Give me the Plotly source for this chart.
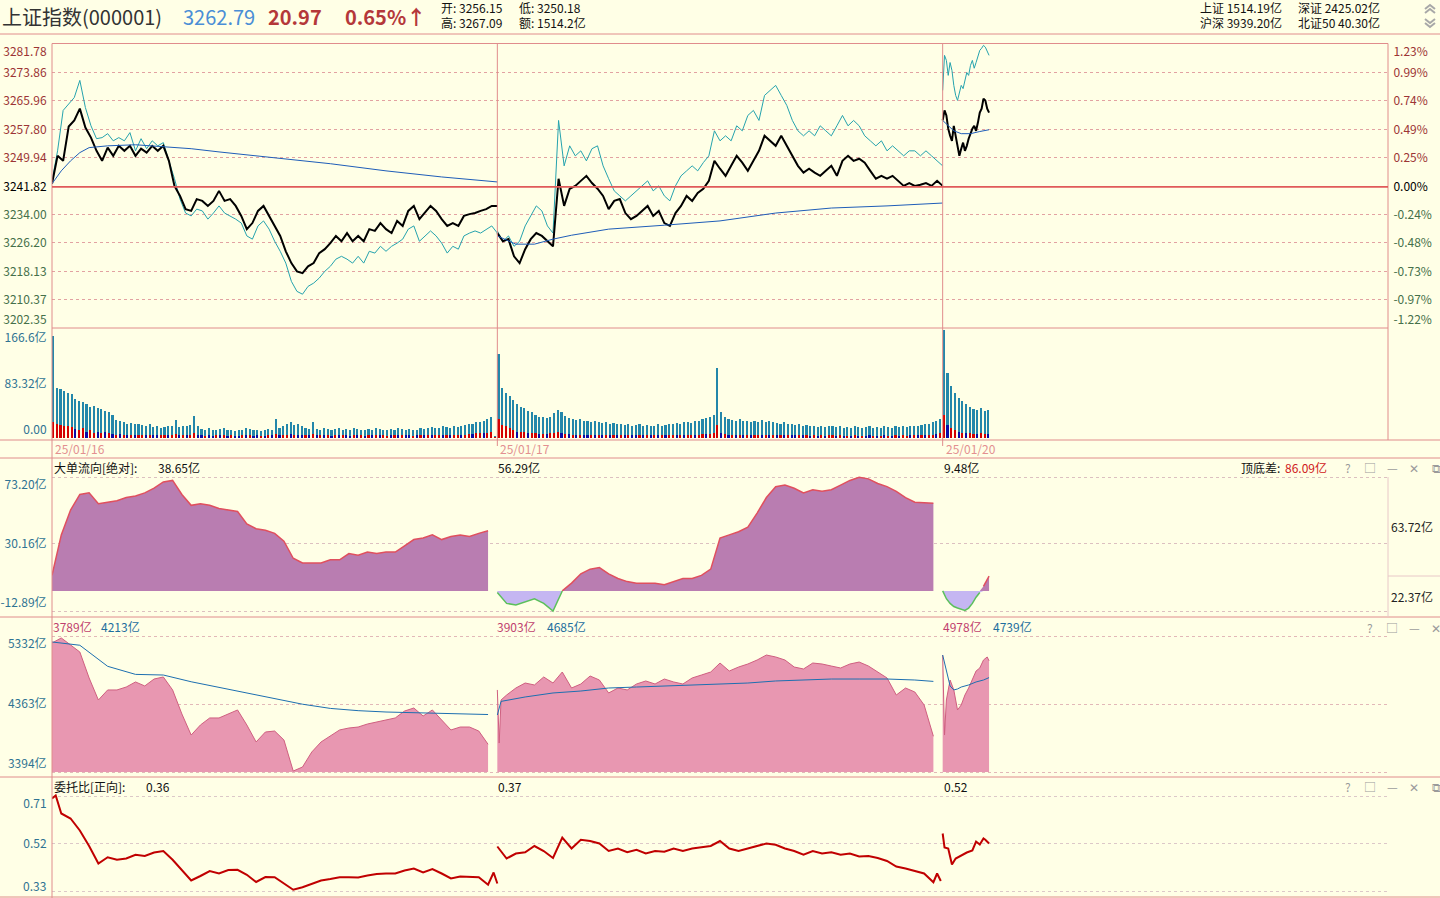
import numpy as np
import plotly.graph_objects as go

W, H = 1440, 898
LEFT, RIGHT = 52, 1388
BG = "#FFFFE6"
FONT = "Noto Sans CJK SC"
SALMON = "#E08C8C"
NB = "\u00a0"

DAY_LABELS = ["25/01/16", "25/01/17", "25/01/20"]
MPD = 240  # trading minutes per day

# ---------------- price panel ----------------
price_t_d1 = list(range(0, 241, 3))
price_t_d2 = list(range(0, 241, 3))
price_t_d3 = list(range(0, 26))

index_d1 = [3242.7, 3250.5, 3249.1, 3258.7, 3260.4, 3263.7, 3258.4, 3255.6, 3251.9, 3249.1,
            3252.8, 3250.5, 3253.3, 3251.9, 3253.3, 3250.5, 3252.5, 3251.4, 3253.3, 3251.9,
            3253.3, 3249.1, 3242.1, 3239.3, 3235.6, 3235.1, 3238.4, 3237.9, 3236.5, 3237.9,
            3240.7, 3237.9, 3238.4, 3236.5, 3233.7, 3230.0, 3231.7, 3235.1, 3236.5, 3233.7,
            3230.9, 3228.1, 3223.8, 3220.5, 3218.2, 3217.7, 3219.6, 3220.5, 3223.3, 3224.4,
            3226.1, 3228.1, 3226.6, 3228.9, 3226.6, 3228.1, 3226.6, 3230.0, 3229.5, 3231.7,
            3230.0, 3228.9, 3232.3, 3230.9, 3235.1, 3236.5, 3232.8, 3234.5, 3236.5, 3235.1,
            3232.8, 3230.9, 3231.7, 3230.9, 3233.7, 3234.2, 3234.5, 3235.1, 3235.6, 3236.5,
            3236.5]
index_d2 = [3228.9, 3226.6, 3227.2, 3222.4, 3220.5, 3224.4, 3227.2, 3228.9, 3228.1, 3226.6,
            3225.2, 3244.1, 3236.5, 3241.3, 3242.1, 3243.5, 3244.9, 3242.9, 3241.3, 3239.3,
            3235.6, 3237.9, 3238.4, 3234.5, 3232.8, 3233.7, 3235.1, 3236.5, 3233.7, 3235.1,
            3231.7, 3230.9, 3234.5, 3236.5, 3239.3, 3237.9, 3240.1, 3241.3, 3243.5, 3249.1,
            3246.9, 3244.9, 3247.7, 3250.5, 3248.6, 3246.3, 3249.1, 3251.9, 3256.1, 3254.7,
            3253.3, 3256.1, 3253.3, 3250.5, 3247.7, 3245.8, 3246.9, 3245.8, 3244.9, 3246.3,
            3247.7, 3244.9, 3249.1, 3250.5, 3249.1, 3249.7, 3248.6, 3246.3, 3244.1, 3244.9,
            3244.1, 3244.9, 3243.5, 3242.1, 3242.9, 3242.1, 3242.4, 3242.9, 3242.1, 3243.5,
            3242.1]
index_d3 = [3260.4, 3263.2, 3261.8, 3258.1, 3256.1, 3254.7, 3258.9, 3256.1, 3253.3, 3250.5,
            3252.5, 3254.2, 3251.9, 3253.3, 3255.3, 3257.0, 3258.1, 3258.9, 3257.5, 3259.8,
            3262.6, 3263.7, 3266.5, 3266.0, 3263.7, 3262.6]

equal_d1 = [3243.5, 3251.9, 3263.2, 3265.1, 3266.8, 3271.6, 3264.0, 3258.9, 3255.3, 3255.6,
            3256.7, 3254.7, 3255.6, 3254.7, 3257.0, 3251.9, 3255.3, 3252.5, 3254.7, 3253.3,
            3254.2, 3249.1, 3244.1, 3238.4, 3234.5, 3233.7, 3235.6, 3235.1, 3232.8, 3234.5,
            3236.5, 3234.5, 3233.7, 3232.8, 3231.7, 3228.1, 3227.2, 3230.9, 3232.3, 3230.0,
            3226.6, 3223.8, 3220.5, 3215.4, 3212.6, 3211.8, 3214.0, 3214.9, 3216.3, 3218.2,
            3219.6, 3221.6, 3222.4, 3221.6, 3220.5, 3222.4, 3220.5, 3223.8, 3223.3, 3225.2,
            3223.8, 3225.2, 3226.1, 3227.2, 3230.0, 3230.9, 3226.6, 3228.1, 3229.5, 3228.1,
            3226.1, 3223.3, 3225.2, 3224.4, 3228.1, 3228.9, 3229.5, 3228.9, 3230.0, 3230.9,
            3228.9]
equal_d2 = [3229.5, 3226.6, 3228.1, 3225.2, 3226.6, 3230.9, 3233.7, 3236.5, 3235.1, 3230.9,
            3228.9, 3260.4, 3247.7, 3253.3, 3250.5, 3251.9, 3249.1, 3252.5, 3253.3, 3247.7,
            3244.1, 3240.7, 3239.3, 3237.9, 3239.3, 3240.7, 3242.1, 3243.5, 3240.7, 3242.1,
            3239.3, 3237.9, 3242.1, 3244.9, 3246.3, 3247.7, 3246.3, 3248.6, 3250.5, 3257.5,
            3254.7, 3256.1, 3254.7, 3258.9, 3257.5, 3261.8, 3263.2, 3260.4, 3267.4, 3268.8,
            3270.2, 3267.4, 3264.6, 3260.4, 3257.5, 3256.1, 3257.5, 3256.1, 3258.9, 3257.5,
            3256.1, 3258.9, 3261.8, 3258.9, 3260.4, 3258.9, 3256.1, 3254.7, 3253.3, 3254.7,
            3251.9, 3253.3, 3251.9, 3250.5, 3251.9, 3251.9, 3250.5, 3251.9, 3250.5, 3249.1,
            3247.7]
equal_d3 = [3268.8, 3278.6, 3277.2, 3273.0, 3276.6, 3274.4, 3270.2, 3267.4, 3266.0, 3268.2,
            3270.2, 3269.3, 3271.6, 3273.8, 3273.0, 3275.8, 3277.2, 3275.0, 3276.6, 3278.6,
            3280.0, 3280.6, 3281.4, 3280.9, 3279.5, 3278.6]

avg_t_d1 = [0, 5, 10, 15, 20, 30, 45, 60, 75, 90, 120, 150, 180, 210, 240]
avg_d1 = [3242.7, 3246.3, 3249.1, 3251.4, 3252.8, 3253.3, 3253.6, 3253.0, 3252.5, 3251.6,
          3250.0, 3248.3, 3246.3, 3244.6, 3243.2]
avg_t_d2 = [0, 10, 20, 30, 40, 60, 90, 120, 150, 180, 210, 240]
avg_d2 = [3228.1, 3225.8, 3225.8, 3227.2, 3228.3, 3230.0, 3231.1, 3232.3, 3234.5, 3235.9,
          3236.5, 3237.3]
avg_t_d3 = [0, 3, 6, 10, 15, 20, 25]
avg_d3 = [3260.4, 3258.9, 3257.5, 3256.7, 3256.7, 3257.3, 3257.8]

PRICE_TICKS = [3281.78, 3273.86, 3265.96, 3257.80, 3249.94, 3241.82, 3234.00, 3226.20,
               3218.13, 3210.37, 3202.35]
PCT_LABELS = ["1.23%", "0.99%", "0.74%", "0.49%", "0.25%", "0.00%", "-0.24%", "-0.48%",
              "-0.73%", "-0.97%", "-1.22%"]
PREV_CLOSE = 3241.82

# ---------------- volume panel (亿) ----------------
vol_t_d1 = list(range(0, 240, 2))
vol_t_d2 = list(range(0, 240, 2))
vol_t_d3 = list(range(0, 26, 2))
vol_d1 = [157, 77, 75, 73, 70, 68, 60, 57, 55, 52,
          48, 50, 47, 45, 42, 40, 36, 28, 27, 24,
          22, 23, 21, 22, 20, 19, 21, 17, 18, 16,
          17, 19, 18, 28, 17, 18, 19, 20, 34, 18,
          14, 13, 15, 12, 13, 14, 16, 12, 13, 11,
          12, 13, 15, 14, 12, 13, 11, 12, 14, 13,
          29, 15, 18, 22, 25, 20, 22, 19, 16, 14,
          25, 14, 13, 15, 14, 12, 14, 15, 13, 14,
          12, 15, 14, 13, 12, 14, 13, 15, 14, 13,
          12, 14, 13, 15, 14, 13, 14, 12, 13, 15,
          14, 16, 17, 15, 16, 18, 17, 16, 18, 17,
          19, 20, 21, 22, 24, 25, 27, 30, 32, 3]
vol_d2 = [130, 78, 70, 65, 58, 52, 48, 46, 42, 40,
          36, 33, 32, 31, 33, 38, 44, 40, 34, 31,
          30, 28, 29, 27, 26, 25, 27, 24, 23, 25,
          22, 23, 21, 22, 20, 21, 19, 20, 22, 19,
          20, 18, 19, 21, 18, 20, 22, 21, 23, 22,
          24, 25, 23, 27, 26, 29, 31, 33, 36, 108,
          40, 33, 30, 28, 27, 29, 26, 27, 25, 26,
          24, 28, 25, 26, 24, 23, 22, 24, 21, 22,
          20, 21, 19, 20, 18, 19, 17, 18, 17, 19,
          18, 17, 18, 16, 17, 16, 18, 17, 16, 17,
          18, 16, 17, 16, 18, 17, 16, 18, 17, 18,
          17, 19, 18, 19, 20, 21, 22, 24, 27, 30]
vol_d3 = [166.6, 100, 80, 70, 62, 57, 52, 48, 45, 43, 46, 42, 44]

act_d1 = [25, 22, 20, 19, 18, 17, 14, 12, 15, 10,
          12, 8, 10, 7, 9, 8, 6, 5, 6, 5,
          5, 4, 5, 5, 4, 5, 4, 5, 4, 4,
          5, 4, 5, 6, 4, 5, 4, 5, 7, 4,
          4, 3, 4, 3, 4, 4, 4, 3, 4, 3,
          3, 4, 4, 4, 3, 4, 3, 3, 4, 4,
          6, 4, 5, 5, 6, 5, 5, 4, 4, 4,
          6, 4, 4, 4, 4, 3, 4, 4, 4, 4,
          3, 4, 4, 4, 3, 4, 4, 4, 4, 4,
          3, 4, 4, 4, 4, 4, 4, 3, 4, 4,
          4, 4, 5, 4, 4, 5, 5, 4, 5, 5,
          5, 5, 6, 6, 7, 7, 8, 8, 9, 1]
act_d2 = [30, 20, 18, 15, 12, 10, 10, 9, 8, 8,
          7, 6, 6, 6, 7, 8, 9, 8, 6, 6,
          5, 5, 5, 5, 5, 4, 5, 4, 4, 5,
          4, 4, 4, 4, 4, 4, 4, 4, 4, 4,
          4, 4, 4, 4, 4, 4, 4, 4, 5, 4,
          5, 5, 4, 5, 5, 6, 6, 6, 7, 20,
          7, 6, 5, 5, 5, 5, 5, 5, 4, 5,
          4, 5, 4, 5, 4, 4, 4, 4, 4, 4,
          4, 4, 4, 4, 3, 4, 3, 4, 3, 4,
          4, 3, 4, 3, 3, 3, 4, 3, 3, 3,
          4, 3, 3, 3, 4, 3, 3, 4, 3, 4,
          3, 4, 4, 4, 4, 4, 5, 5, 6, 7]
act_d3 = [35, 20, 15, 12, 10, 8, 7, 7, 6, 6, 7, 6, 6]
dir_d1 = ("RRRRRRBRRB" "RRBRBRBRBR" "BRBRRBRBBR" "RBRRBRBRRB" "BRBBRBRBRB" "BRBRBBRBRB"
          "RBRRBRBBRB" "RBRBRBRBRB" "BRBRBRBRBR" "RBRBRBBRBR" "BRBRRBRBRR" "BRRBRRBRRR")
dir_d2 = ("RRRRRBRRBR" "RBRBRRRBRB" "RBRBBRBRBR" "BRBRBRBBRB" "RBRBRBRRBR" "BRRBRRBRRR"
          "BRBRBRBRBR" "RBRBRBRBRB" "BRBRBRBRBR" "RBRBRBRBRB" "BRBRBRBRBR" "RBRBRBRRBR")
dir_d3 = "RBRRBRBRRBRRB"
VOL_TICKS = [0, 83.32, 166.6]
VOL_LABELS = ["0.00", "83.32亿", "166.6亿"]

# ---------------- big-order flow panel (亿) ----------------
flow_t_d1 = list(range(0, 236, 5))
flow_t_d2 = list(range(0, 236, 5))
flow_t_d3 = [0, 2, 4, 6, 8, 10, 12, 14, 16, 18, 20, 22, 24, 25]
flow_d1 = [10, 36, 52, 62, 63, 56, 57, 58, 60, 61, 63, 66, 70, 71, 62, 55, 56, 55, 53, 52,
           51, 43, 40, 39, 37, 32, 21, 18, 18, 18, 20, 20, 24, 23, 25, 24, 25, 25, 29, 33,
           34, 36, 33, 35, 36, 35, 37, 38.65]
flow_d2 = [-1, -8, -9, -7, -5, -8, -12.9, 0, 5, 11, 14, 15, 11, 8, 6, 5, 5, 5, 4, 6,
           8, 8, 10, 14, 34, 36, 38, 41, 50, 60, 67, 68, 66, 63, 65, 64, 65, 68, 71, 73,
           72, 69, 67, 64, 60, 57, 56.5, 56.29]
flow_d3 = [0, -5, -8, -10, -11, -12, -12.5, -11, -8, -4, -1, 3, 7, 9.48]
FLOW_TICKS = [73.20, 30.16, -12.89]

# ---------------- capital panel (亿) ----------------
cap_t_d1 = list(range(0, 236, 5))
cap_t_d2 = [0, 1, 2] + list(range(5, 236, 5))
cap_t_d3 = [0, 1, 2, 4, 6, 8, 10, 12, 14, 16, 18, 20, 22, 24, 25]
cap_d1 = [5232, 5304, 5204, 5104, 4734, 4420, 4563, 4563, 4605, 4677, 4620, 4719, 4748, 4563,
          4221, 3921, 4064, 4164, 4164, 4221, 4278, 4064, 3822, 3964, 3978, 3850, 3408, 3465,
          3679, 3822, 3907, 3993, 4021, 4035, 4078, 4107, 4135, 4164, 4263, 4306, 4192, 4278,
          4135, 3993, 4035, 4035, 3978, 3789]
cap_d2 = [4563, 3807, 4420, 4491, 4591, 4662, 4634, 4748, 4662, 4819, 4591, 4648, 4762, 4705,
          4520, 4591, 4563, 4648, 4691, 4648, 4719, 4677, 4648, 4734, 4776, 4819, 4947, 4833,
          4890, 4933, 4990, 5061, 5033, 4990, 4890, 4862, 4947, 4933, 4904, 4876, 4933, 4961,
          4904, 4819, 4734, 4491, 4591, 4534, 4349, 3903]
cap_d3 = [5061, 3921, 4420, 4705, 4563, 4278, 4349, 4491, 4591, 4705, 4833, 4876, 4990, 5033,
          4978]
capavg_t_d1 = list(range(0, 226, 15)) + [235]
capavg_t_d2 = [0, 2] + list(range(15, 226, 15)) + [235]
capavg_t_d3 = [0, 2, 4, 6, 8, 10, 14, 18, 22, 25]
capavg_d1 = [5247, 5200, 4900, 4785, 4776, 4680, 4600, 4520, 4450, 4360, 4300, 4268, 4249,
             4240, 4235, 4228, 4213]
capavg_d2 = [4206, 4400, 4463, 4520, 4548, 4591, 4605, 4620, 4634, 4648, 4662, 4691, 4705,
             4719, 4719, 4719, 4705, 4685]
capavg_d3 = [5061, 4848, 4620, 4563, 4577, 4605, 4634, 4677, 4705, 4739]
CAP_TICKS = [5332, 4363, 3394]

# ---------------- order ratio panel ----------------
ratio_t_d1 = [0, 2] + list(range(5, 236, 5)) + [238, 240]
ratio_t_d2 = [0, 2] + list(range(5, 236, 5)) + [237, 239]
ratio_t_d3 = [0, 1, 3, 5, 7, 10, 13, 16, 18, 20, 22, 23, 25]
ratio_d1 = [0.700, 0.712, 0.64, 0.62, 0.572, 0.51, 0.44, 0.465, 0.455, 0.46, 0.475, 0.47,
            0.484, 0.49, 0.455, 0.415, 0.372, 0.39, 0.41, 0.40, 0.414, 0.415, 0.395, 0.366,
            0.386, 0.385, 0.36, 0.335, 0.345, 0.36, 0.372, 0.378, 0.385, 0.385, 0.384, 0.392,
            0.398, 0.40, 0.40, 0.412, 0.42, 0.404, 0.418, 0.40, 0.38, 0.388, 0.388, 0.385,
            0.355, 0.404, 0.36]
ratio_d2 = [0.508, 0.49, 0.46, 0.48, 0.485, 0.51, 0.49, 0.462, 0.544, 0.50, 0.535, 0.53,
            0.52, 0.49, 0.50, 0.485, 0.495, 0.48, 0.49, 0.487, 0.50, 0.49, 0.50, 0.505, 0.51,
            0.53, 0.50, 0.49, 0.50, 0.51, 0.52, 0.515, 0.50, 0.49, 0.475, 0.49, 0.48, 0.485,
            0.475, 0.48, 0.468, 0.47, 0.462, 0.45, 0.428, 0.42, 0.41, 0.40, 0.365, 0.40, 0.37]
ratio_d3 = [0.56, 0.504, 0.50, 0.436, 0.46, 0.472, 0.484, 0.492, 0.528, 0.516, 0.54, 0.535,
            0.52]
RATIO_TICKS = [0.71, 0.52, 0.33]


# ---------------- helpers ----------------
def xs(day, ts, off=0.0):
    return [day * MPD + t + off for t in ts]


def px(x):
    return (x - LEFT) / (RIGHT - LEFT)


def py(y):
    return 1 - y / H


def dom(top, bottom):
    return [1 - bottom / H, 1 - top / H]


def edge_labels(labels, last=True):
    """Shift first label down and last label up by half a line, like the terminal does."""
    out = list(labels)
    out[0] = NB + "<br>" + out[0]
    if last:
        out[-1] = out[-1] + "<br>" + NB
    return out


fig = go.Figure()

# price panel (average line drawn on the right-hand percent axis, same scale)
for d, (ta, a) in enumerate([(avg_t_d1, avg_d1), (avg_t_d2, avg_d2), (avg_t_d3, avg_d3)]):
    fig.add_trace(go.Scatter(x=xs(d, ta), y=a, mode="lines", yaxis="y6",
                             line=dict(color="#1F5DB8", width=1)))
for d, (tp, e) in enumerate([(price_t_d1, equal_d1), (price_t_d2, equal_d2), (price_t_d3, equal_d3)]):
    fig.add_trace(go.Scatter(x=xs(d, tp), y=e, mode="lines", yaxis="y",
                             line=dict(color="#25A3AE", width=1)))
for d, (tp, p) in enumerate([(price_t_d1, index_d1), (price_t_d2, index_d2), (price_t_d3, index_d3)]):
    fig.add_trace(go.Scatter(x=xs(d, tp), y=p, mode="lines", yaxis="y",
                             line=dict(color="#000000", width=2)))

# volume panel
vol_sets = [(vol_t_d1, vol_d1, act_d1, dir_d1), (vol_t_d2, vol_d2, act_d2, dir_d2),
            (vol_t_d3, vol_d3, act_d3, dir_d3)]
for d, (tv, v, a, dr) in enumerate(vol_sets):
    fig.add_trace(go.Bar(x=xs(d, tv, 0.6), y=v, width=1.15, yaxis="y2",
                         marker=dict(color="#2387AA", line=dict(width=0))))
    fig.add_trace(go.Bar(x=xs(d, tv, 0.6), y=a, width=1.15, yaxis="y2",
                         marker=dict(color=["#D40000" if c == "R" else "#0A0AA8" for c in dr],
                                     line=dict(width=0))))

# flow panel
for d, (tf, f) in enumerate([(flow_t_d1, flow_d1), (flow_t_d2, flow_d2), (flow_t_d3, flow_d3)]):
    v = np.array(f, dtype=float)
    x = xs(d, tf)
    fig.add_trace(go.Scatter(x=x, y=np.clip(v, 0, None), mode="lines", fill="tozeroy",
                             fillcolor="#B97DB1", line=dict(width=0), yaxis="y3"))
    fig.add_trace(go.Scatter(x=x, y=np.clip(v, None, 0), mode="lines", fill="tozeroy",
                             fillcolor="#C5B6F2", line=dict(width=0), yaxis="y3"))
    fig.add_trace(go.Scatter(x=x, y=np.where(v >= 0, v, np.nan), mode="lines", yaxis="y3",
                             line=dict(color="#E0505E", width=1.5)))
    fig.add_trace(go.Scatter(x=x, y=np.where(v <= 0, v, np.nan), mode="lines", yaxis="y3",
                             line=dict(color="#5CC05C", width=1.5)))

# capital panel
cap_sets = [(cap_t_d1, cap_d1, capavg_t_d1, capavg_d1), (cap_t_d2, cap_d2, capavg_t_d2, capavg_d2),
            (cap_t_d3, cap_d3, capavg_t_d3, capavg_d3)]
for d, (tc, c, tca, ca) in enumerate(cap_sets):
    x = xs(d, tc)
    fig.add_trace(go.Scatter(x=x, y=[CAP_TICKS[-1]] * len(x), mode="lines",
                             line=dict(width=0), yaxis="y4"))
    fig.add_trace(go.Scatter(x=x, y=c, mode="lines", fill="tonexty", fillcolor="#E897B1",
                             line=dict(color="#CF5F80", width=1), yaxis="y4"))
    fig.add_trace(go.Scatter(x=xs(d, tca), y=ca, mode="lines", yaxis="y4",
                             line=dict(color="#1D6FB0", width=1)))

# ratio panel
for d, (tr, r) in enumerate([(ratio_t_d1, ratio_d1), (ratio_t_d2, ratio_d2), (ratio_t_d3, ratio_d3)]):
    fig.add_trace(go.Scatter(x=xs(d, tr), y=r, mode="lines", yaxis="y5",
                             line=dict(color="#C00000", width=2)))

# ---------------- axes ----------------
UP, FLAT, DOWN = "#9C3535", "#000000", "#45704A"
AXBLUE = "#2F7393"


def colored(labels, values, ref):
    out = []
    for lab, val in zip(labels, values):
        c = UP if val > ref + 1e-6 else (DOWN if val < ref - 1e-6 else FLAT)
        out.append(f'<span style="color:{c}">{lab}</span>')
    return out


TS = 12
tickfont = dict(family=FONT, size=TS, color=AXBLUE)
common = dict(showline=False, zeroline=False, ticks="outside", ticklen=2, tickcolor="rgba(0,0,0,0)",
              anchor="x", fixedrange=True, automargin=False)

price_range = [PRICE_TICKS[-1], PRICE_TICKS[0]]
layout_axes = dict(
    xaxis=dict(range=[0, 3 * MPD], domain=[0, 1], visible=False, anchor="y5", fixedrange=True,
               automargin=False),
    yaxis=dict(domain=dom(44, 328), range=price_range, tickvals=PRICE_TICKS,
               ticktext=edge_labels(colored([f"{v:.2f}" for v in PRICE_TICKS], PRICE_TICKS, PREV_CLOSE)),
               showgrid=True, gridcolor="#E2A2A2", griddash="3px,3px", gridwidth=1,
               tickfont=dict(family=FONT, size=TS), **common),
    yaxis6=dict(overlaying="y", side="right", range=price_range, tickvals=PRICE_TICKS,
                ticktext=edge_labels(colored(PCT_LABELS, PRICE_TICKS, PREV_CLOSE)), showgrid=False,
                tickfont=dict(family=FONT, size=TS), **common),
    yaxis2=dict(domain=dom(328, 438), range=[0, 170], tickvals=VOL_TICKS,
                ticktext=[VOL_LABELS[0] + "<br>" + NB, VOL_LABELS[1], NB + "<br>" + VOL_LABELS[2]],
                showgrid=False, tickfont=tickfont, **common),
    yaxis3=dict(domain=dom(458, 617), range=[-16.745, 85.407], tickvals=FLOW_TICKS,
                ticktext=edge_labels([f"{v:.2f}亿" for v in FLOW_TICKS]), showgrid=True,
                gridcolor="#DCC0C0", griddash="3px,3px", tickfont=tickfont, **common),
    yaxis4=dict(domain=dom(617, 777), range=[3322.75, 5602.75], tickvals=CAP_TICKS,
                ticktext=edge_labels([f"{v}亿" for v in CAP_TICKS]), showgrid=True,
                gridcolor="#E2B8B8", griddash="3px,3px", tickfont=tickfont, **common),
    yaxis5=dict(domain=dom(777, 898), range=[0.302, 0.786], tickvals=RATIO_TICKS,
                ticktext=edge_labels([f"{v:.2f}" for v in RATIO_TICKS[:-1]] + [NB], last=False),
                showgrid=True, gridcolor="#DCC8C8", griddash="3px,3px", tickfont=tickfont, **common),
)

# ---------------- shapes ----------------
shapes = []


def seg(x0, y0, x1, y1, color=SALMON, width=1):
    shapes.append(dict(type="line", xref="paper", yref="paper", x0=px(x0), y0=py(y0),
                       x1=px(x1), y1=py(y1), line=dict(color=color, width=width), layer="above"))


def poly(points, color="#A8A8A8", width=2):
    path = "M " + " L ".join(f"{px(a)},{py(b)}" for a, b in points)
    shapes.append(dict(type="path", xref="paper", yref="paper", path=path,
                       line=dict(color=color, width=width), layer="above"))


seg(0, 34, W, 34)
seg(LEFT, 43.5, RIGHT, 43.5)
seg(LEFT, 43.5, LEFT, H)
seg(RIGHT, 43.5, RIGHT, 440)
seg(LEFT, 328, RIGHT, 328)
seg(0, 440, W, 440)
seg(0, 458, W, 458)
seg(0, 617, W, 617)
seg(0, 777, W, 777)
seg(0, 897, W, 897)
seg(RIGHT, 477, RIGHT, 617, color="#E8C8C8")
seg(RIGHT, 576, W, 576, color="#E8C8C8")
for d in (1, 2):
    xd = LEFT + (RIGHT - LEFT) * d / 3
    seg(xd, 43.5, xd, 446)
shapes.append(dict(type="line", xref="paper", yref="y", x0=0, x1=1, y0=PREV_CLOSE, y1=PREV_CLOSE,
                   line=dict(color="#E05A5A", width=1.6), layer="above"))
# scroll chevrons (top right)
poly([(1425, 9), (1430, 5), (1435, 9)])
poly([(1425, 13), (1430, 9), (1435, 13)])
poly([(1425, 19), (1430, 23), (1435, 19)])
poly([(1425, 23), (1430, 27), (1435, 23)])

# ---------------- annotations ----------------
anns = []


def txt(x, y, s, color="#111111", size=12, anchor="left"):
    anns.append(dict(x=px(x), y=py(y), xref="paper", yref="paper", text=s, showarrow=False,
                     xanchor=anchor, yanchor="middle", font=dict(family=FONT, size=size, color=color)))


# bottom label of the ratio axis, lifted inside the panel
anns.append(dict(x=0, y=RATIO_TICKS[-1], xref="paper", yref="y5", text=f"{RATIO_TICKS[-1]:.2f}",
                 showarrow=False, xanchor="right", yanchor="middle", xshift=-4, yshift=6,
                 font=dict(family=FONT, size=TS, color=AXBLUE)))

txt(0, 17, "上证指数(000001)", "#333333", 20)
txt(181, 17, "3262.79", "#4A8ED6", 20)
txt(266, 17, "<b>20.97</b>", "#B4383A", 20)
txt(343, 17, "<b>0.65%↑</b>", "#B4383A", 20)
txt(439, 8, "开: 3256.15", "#111111", 12)
txt(517, 8, "低: 3250.18", "#111111", 12)
txt(439, 22, "高: 3267.09", "#111111", 12)
txt(517, 22, "额: 1514.2亿", "#111111", 12)
txt(1198, 8, "上证 1514.19亿", "#111111", 12)
txt(1296, 8, "深证 2425.02亿", "#111111", 12)
txt(1198, 22, "沪深 3939.20亿", "#111111", 12)
txt(1296, 22, "北证50 40.30亿", "#111111", 12)

for d, lab in enumerate(DAY_LABELS):
    txt(LEFT + (RIGHT - LEFT) * d / 3 + 1, 448, lab, "#E39090", 12)

# flow header
txt(52, 467, "大单流向[绝对]:", "#111111", 12)
txt(156, 467, "38.65亿", "#111111", 12)
txt(496, 467, "56.29亿", "#111111", 12)
txt(942, 467, "9.48亿", "#111111", 12)
txt(1239, 467, "顶底差:", "#111111", 12)
txt(1283, 467, "86.09亿", "#D02020", 12)
txt(1389, 526, "63.72亿", "#222222", 12)
txt(1389, 596, "22.37亿", "#222222", 12)

# capital header
txt(51, 626, "3789亿", "#BF3F6E", 12)
txt(99, 626, "4213亿", "#1E6E9E", 12)
txt(495, 626, "3903亿", "#BF3F6E", 12)
txt(545, 626, "4685亿", "#1E6E9E", 12)
txt(941, 626, "4978亿", "#BF3F6E", 12)
txt(991, 626, "4739亿", "#1E6E9E", 12)

# ratio header
txt(52, 786, "委托比[正向]:", "#111111", 12)
txt(144, 786, "0.36", "#111111", 12)
txt(496, 786, "0.37", "#111111", 12)
txt(942, 786, "0.52", "#111111", 12)

icons5 = ["?", "□", "—", "✕", "⧉"]
for yy in (467, 786):
    for i, ic in enumerate(icons5):
        txt(1348 + 22 * i, yy, ic, "#9A9A9A", 12, "center")
for i, ic in enumerate(icons5[:4]):
    txt(1370 + 22 * i, 627, ic, "#9A9A9A", 12, "center")

fig.update_layout(
    width=W, height=H, paper_bgcolor=BG, plot_bgcolor=BG, showlegend=False,
    margin=dict(l=LEFT, r=W - RIGHT, t=0, b=0, pad=0), barmode="overlay", bargap=0,
    hovermode=False, shapes=shapes, annotations=anns,
    font=dict(family=FONT, size=12, color="#111111"), **layout_axes,
)

fig.write_html("out.html", config={"displayModeBar": False})
